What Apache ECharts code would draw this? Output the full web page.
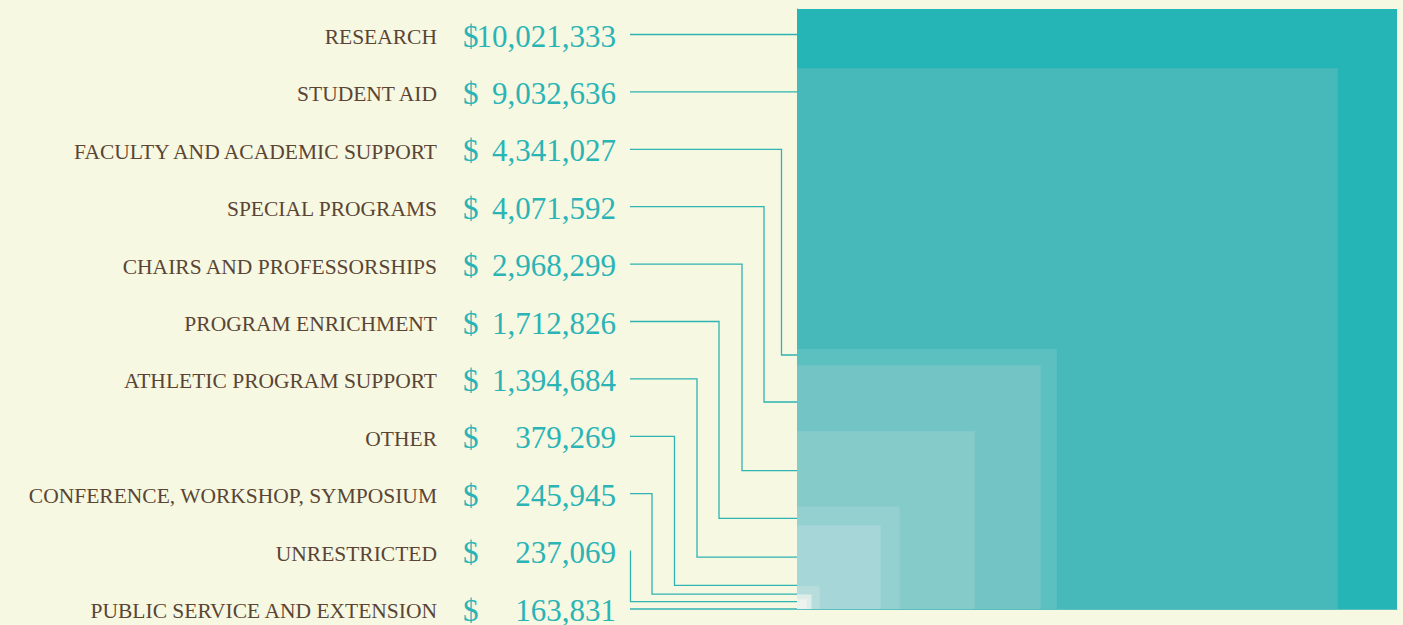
<!DOCTYPE html>
<html>
<head>
<meta charset="utf-8">
<script src="https://cdn.jsdelivr.net/npm/echarts@6/dist/echarts.min.js"></script>
<style>
html,body{margin:0;padding:0;background:#f7f8e1;}
#main{width:1403px;height:625px;}
</style>
</head>
<body>
<div id="main"></div>
<script>
// ---- data ----
const categories = [
  'RESEARCH','STUDENT AID','FACULTY AND ACADEMIC SUPPORT','SPECIAL PROGRAMS',
  'CHAIRS AND PROFESSORSHIPS','PROGRAM ENRICHMENT','ATHLETIC PROGRAM SUPPORT',
  'OTHER','CONFERENCE, WORKSHOP, SYMPOSIUM','UNRESTRICTED','PUBLIC SERVICE AND EXTENSION'
];
const amounts = [10021333, 9032636, 4341027, 4071592, 2968299, 1712826, 1394684, 379269, 245945, 237069, 163831];
// height (in dollars, on the square scale) where each leader line meets the squares; null = straight across
const leaderLevels = [null, null, 4242000, 3457000, 2310000, 1515000, 868000, 396000, 250000, 122000, 0];

// ---- styles / layout ----
const squareColors = ['#26b5b7','#48b9bb','#5cbfc0','#73c4c5','#84cbca','#95d0d1','#a6d6d7','#b6dcdc','#cce6e4','#dcedea','#edf4ef'];
const elbowGaps = [0, 0, 15.5, 33, 55, 78, 100, 122.5, 145, 166.5, 0];
const lineColor = '#2fb3b3';
const maxVal = amounts[0];

const chart = echarts.init(document.getElementById('main'), null, {renderer: 'svg'});

const option = {
  backgroundColor: '#f7f8e1',
  animation: false,
  grid: [
    {left: 797, top: 9, width: 600, height: 600},
    {left: 445, top: 37, width: 171, height: 574}
  ],
  xAxis: [
    {gridIndex: 0, type: 'value', min: 0, max: maxVal,
     axisLine: {show: true, lineStyle: {color: '#5cbfbf', width: 1}},
     axisTick: {show: false}, axisLabel: {show: false}, splitLine: {show: false}},
    {gridIndex: 1, type: 'value', min: 0, max: 1, show: false}
  ],
  yAxis: [
    {gridIndex: 0, type: 'value', min: 0, max: maxVal,
     axisLine: {show: true, lineStyle: {color: '#38b3b3', width: 1}},
     axisTick: {show: false}, axisLabel: {show: false}, splitLine: {show: false}},
    {gridIndex: 1, type: 'category', inverse: true, boundaryGap: false, data: categories,
     axisLine: {show: false}, axisTick: {show: false}, splitLine: {show: false},
     axisLabel: {margin: 8, color: '#5a4535', fontFamily: 'Liberation Serif', fontSize: 21.5, interval: 0}}
  ],
  series: [
    {
      type: 'custom', xAxisIndex: 0, yAxisIndex: 0,
      data: amounts.map(v => [v]),
      renderItem: function (params, api) {
        const v = api.value(0);
        const p0 = api.coord([0, 0]);
        const p1 = api.coord([v, v]);
        return {
          type: 'rect',
          shape: {x: p0[0], y: p1[1], width: p1[0] - p0[0], height: p0[1] - p1[1]},
          style: {fill: squareColors[params.dataIndex]}
        };
      }
    },
    {
      type: 'custom', xAxisIndex: 1, yAxisIndex: 1,
      data: amounts.map((v, i) => [0, i, v]),
      renderItem: function (params, api) {
        const i = api.value(1);
        const left = api.coord([0, i]);
        const right = api.coord([1, i]);
        const v = api.value(2);
        const font = {fontFamily: 'Liberation Serif', fontSize: 31, fill: '#2ab4b6'};
        return {
          type: 'group',
          children: [
            {type: 'text', x: left[0] + 18, y: left[1] - 1,
             style: Object.assign({text: '$', align: 'left', verticalAlign: 'middle'}, font)},
            {type: 'text', x: right[0], y: right[1] - 1,
             style: Object.assign({text: v.toLocaleString('en-US'), align: 'right', verticalAlign: 'middle'}, font)}
          ]
        };
      }
    }
  ]
};
chart.setOption(option);

// leader lines, positioned from both coordinate systems
const startX = 630;
const graphics = [];
categories.forEach((c, i) => {
  const rowY = chart.convertToPixel({yAxisIndex: 1}, c) - 2.5;
  const edgeX = chart.convertToPixel({xAxisIndex: 0}, 0);
  let pts;
  if (leaderLevels[i] === null) {
    pts = [[startX, rowY], [edgeX, rowY]];
  } else {
    const endY = chart.convertToPixel({yAxisIndex: 0}, leaderLevels[i]);
    const ex = elbowGaps[i] ? edgeX - elbowGaps[i] : startX;
    if (i === categories.length - 1) {
      pts = [[startX, endY], [edgeX, endY]];
    } else {
      pts = [[startX, rowY], [ex, rowY], [ex, endY], [edgeX, endY]];
    }
  }
  graphics.push({type: 'polyline', silent: true, shape: {points: pts},
    style: {stroke: lineColor, lineWidth: 1.3, fill: null}});
});
chart.setOption({graphic: graphics});
</script>
</body>
</html>
